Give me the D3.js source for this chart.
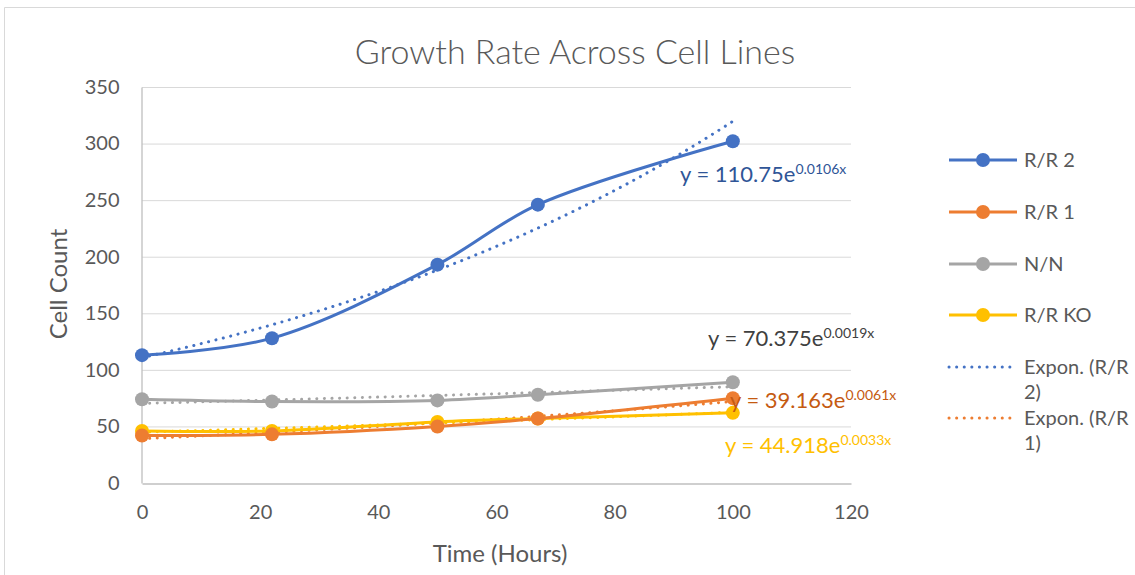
<!DOCTYPE html>
<html>
<head>
<meta charset="utf-8">
<script src="https://cdn.jsdelivr.net/npm/d3@7"></script>
<style>
  body { margin: 0; background: #fff; overflow: hidden; }
  svg { display: block; font-family: Lato, "Open Sans", sans-serif; }
</style>
</head>
<body>
<svg id="chart" width="1135" height="575"></svg>
<script>
  // hours sampled
  var hours = [0, 22, 50, 67, 100];
  var seriesNames = ["R/R 2", "R/R 1", "N/N", "R/R KO"];
  var rr2 = [113, 128, 193, 246, 302];
  var rr1 = [42, 43, 50, 57, 75];
  var nn = [74, 72, 73, 78, 89];
  var rrko = [46, 46, 54, 57, 62];
  var colors = ["#4472c4", "#ed7d31", "#a5a5a5", "#ffc000"];
  // exponential fits  y = a * e^(b x)
  var fitA = [110.75, 39.163, 70.375, 44.918];
  var fitB = [0.0106, 0.0061, 0.0019, 0.0033];
  var fitLabels = ["110.75e", "39.163e", "70.375e", "44.918e"];
  var fitExp = ["0.0106x", "0.0061x", "0.0019x", "0.0033x"];
  var fitColors = ["#2f5597", "#c55a11", "#404040", "#ffc000"];
  var xTicks = [0, 20, 40, 60, 80, 100, 120];
  var yTicks = [0, 50, 100, 150, 200, 250, 300, 350];

  var values = [rr2, rr1, nn, rrko];
  var svg = d3.select("#chart");

  // chart frame
  svg.append("path").attr("d", "M4.5,575 V7.5 H1135")
    .attr("fill", "none").attr("stroke", "#d9d9d9").attr("stroke-width", 1);

  var x = d3.scaleLinear().domain([0, 120]).range([142, 851]);
  var y = d3.scaleLinear().domain([0, 350]).range([483, 87]);

  // gridlines
  svg.append("g").selectAll("line").data(yTicks.slice(1)).enter().append("line")
    .attr("x1", x(0)).attr("x2", x(120))
    .attr("y1", function(d) { return y(d) + 0.5; }).attr("y2", function(d) { return y(d) + 0.5; })
    .attr("stroke", "#d9d9d9").attr("stroke-width", 1);

  var xAxis = svg.append("g").attr("transform", "translate(0," + (y(0) + 0.5) + ")")
    .call(d3.axisBottom(x).tickValues(xTicks).tickSize(0).tickPadding(21));
  var yAxis = svg.append("g").attr("transform", "translate(" + (x(0) - 0.5) + ",0)")
    .call(d3.axisLeft(y).tickValues(yTicks).tickSize(0).tickPadding(22));
  [xAxis, yAxis].forEach(function(a) {
    a.select(".domain").attr("stroke", "#bfbfbf").attr("stroke-width", 1.3);
    a.selectAll("text").attr("fill", "#595959").style("font-size", "20px").style("font-family", "Lato, sans-serif");
  });

  // title + axis titles
  svg.append("text").attr("x", 575).attr("y", 64).attr("text-anchor", "middle")
    .attr("fill", "#595959").style("font-size", "34px").style("font-weight", 300)
    .text("Growth Rate Across Cell Lines");
  svg.append("text").attr("x", 500).attr("y", 562).attr("text-anchor", "middle")
    .attr("fill", "#595959").style("font-size", "24px").text("Time (Hours)");
  svg.append("text").attr("transform", "translate(67,284) rotate(-90)").attr("text-anchor", "middle")
    .attr("fill", "#595959").style("font-size", "24px").text("Cell Count");

  // trendlines (drawn from the fitted equations)
  var fitX = d3.range(0, 100.5, 2);
  values.forEach(function(v, i) {
    var line = d3.line().x(function(d) { return x(d); })
      .y(function(d) { return y(fitA[i] * Math.exp(fitB[i] * d)); });
    svg.append("path").datum(fitX).attr("d", line)
      .attr("fill", "none").attr("stroke", colors[i]).attr("stroke-width", 3)
      .attr("stroke-linecap", "round").attr("stroke-dasharray", "0.1 7.5");
  });

  // series, drawn back to front
  [2, 3, 1, 0].forEach(function(i) {
    var pts = hours.map(function(h, k) { return [h, values[i][k]]; });
    var line = d3.line().curve(d3.curveCatmullRom.alpha(0.5))
      .x(function(d) { return x(d[0]); }).y(function(d) { return y(d[1]); });
    svg.append("path").datum(pts).attr("d", line)
      .attr("fill", "none").attr("stroke", colors[i]).attr("stroke-width", 3);
    svg.append("g").selectAll("circle").data(pts).enter().append("circle")
      .attr("cx", function(d) { return x(d[0]); }).attr("cy", function(d) { return y(d[1]); })
      .attr("r", 7).attr("fill", colors[i]);
  });

  // equation labels
  var labelPos = [[680, 182], [730, 408], [708, 346], [725, 453]];
  labelPos.forEach(function(p, i) {
    var t = svg.append("text").attr("x", p[0]).attr("y", p[1])
      .attr("fill", fitColors[i]).style("font-size", "22px");
    t.append("tspan").text("y = " + fitLabels[i]);
    t.append("tspan").attr("dy", -8).style("font-size", "14px").text(fitExp[i]);
  });

  // legend
  var legend = svg.append("g");
  var legendY = [160, 212, 264, 315];
  seriesNames.forEach(function(name, i) {
    var g = legend.append("g").attr("transform", "translate(0," + legendY[i] + ")");
    g.append("line").attr("x1", 949).attr("x2", 1017).attr("stroke", colors[i]).attr("stroke-width", 3);
    g.append("circle").attr("cx", 983).attr("r", 7).attr("fill", colors[i]);
    g.append("text").attr("x", 1024).attr("y", 7).attr("fill", "#595959").style("font-size", "20px").text(name);
  });
  var trendNames = [["Expon. (R/R", "2)"], ["Expon. (R/R", "1)"]];
  [367, 418].forEach(function(ly, i) {
    var g = legend.append("g").attr("transform", "translate(0," + ly + ")");
    g.append("line").attr("x1", 949).attr("x2", 1017).attr("stroke", colors[i]).attr("stroke-width", 3)
      .attr("stroke-linecap", "round").attr("stroke-dasharray", "0.1 7.5");
    var t = g.append("text").attr("x", 1024).attr("y", 7).attr("fill", "#595959").style("font-size", "20px");
    t.append("tspan").attr("x", 1024).text(trendNames[i][0]);
    t.append("tspan").attr("x", 1024).attr("dy", 25).text(trendNames[i][1]);
  });
</script>
</body>
</html>
